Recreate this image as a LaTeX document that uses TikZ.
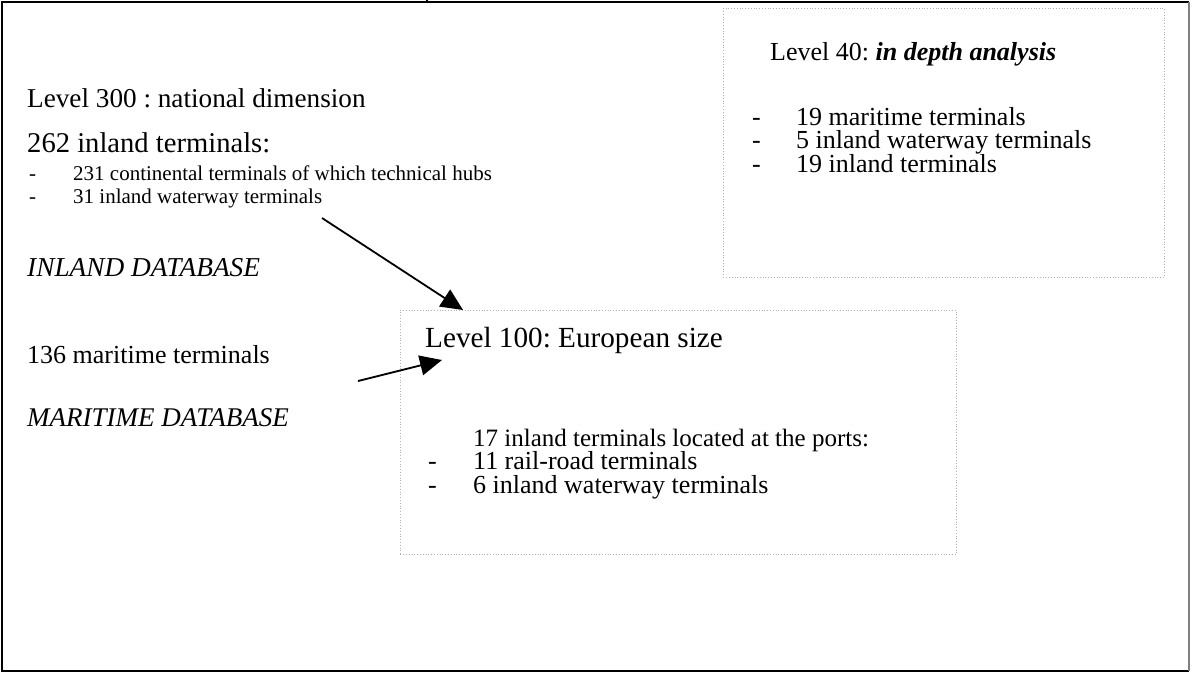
\documentclass[tikz,border=0pt]{standalone}
\usepackage{fontspec}
\setmainfont{Liberation Serif}
\usetikzlibrary{arrows.meta}
\frenchspacing
\newcommand{\pxsize}[1]{\fontsize{#1}{#1}\selectfont}
% a list of lines at a fixed line pitch; baseline = first line
\newcommand{\linestack}[2]{\vtop{\baselineskip=#1pt\lineskiplimit=-30pt\lineskip=0pt #2}}
\newcommand{\bul}[2]{\hbox{\makebox[#1pt][l]{-}#2}}
\begin{document}
\begin{tikzpicture}[x=1pt,y=-1pt,
  txt/.style={anchor=base west, inner sep=0pt},
  item/.style={txt, font=\pxsize{21}},
  body/.style={txt, font=\pxsize{26}},
  dotbox/.style={draw=gray!60, dotted, line width=0.8pt, inner sep=0pt, anchor=north west},
  link/.style={line width=1.8pt, -{Triangle[length=22pt,width=20pt]}}]

\useasboundingbox (0,0) rectangle (1193,673);
\fill[white] (0,0) rectangle (1193,673);

% outer frame
\draw[line width=2pt] (1189,2) -- (2,2) -- (2,671) -- (1189,671);
\draw[gray, line width=1.5pt] (1189,2) -- (1189,671);
\draw[line width=1.2pt] (427,0) -- (427,3);

% dotted boxes
\node[dotbox, minimum width=441pt, minimum height=269pt] (l40) at (723,8) {};
\node[dotbox, minimum width=556pt, minimum height=244pt] (l100) at (400,310) {};

% national level
\node[txt, font=\pxsize{27.2}] (t300) at (27,107) {Level 300 : national dimension};
\node[txt, font=\pxsize{28.6}] (inl) at (27,152) {262 inland terminals:};
\node[item] (i300) at (29,180) {\linestack{23}{%
  \bul{44}{231 continental terminals of which technical hubs}%
  \bul{44}{31 inland waterway terminals}}};
\node[txt, font=\pxsize{27.3}] (idb) at (27,276) {\itshape INLAND DATABASE};
\node[body] (mar) at (27,363) {136 maritime terminals};
\node[txt, font=\pxsize{27}] (mdb) at (27,426) {\itshape MARITIME DATABASE};

% level 40
\node[body] (t40) at (770,60) {Level 40: \textbf{\itshape in depth analysis}};
\node[body] (i40) at (752,125) {\linestack{23.5}{%
  \bul{44}{19 maritime terminals}%
  \bul{44}{5 inland waterway terminals}%
  \bul{44}{19 inland terminals}}};

% level 100
\node[txt, font=\pxsize{29.2}] (t100) at (425,347) {Level 100: European size};
\node[body] (i100) at (428,446) {\linestack{23.5}{%
  \hbox{\hspace*{45pt}{\pxsize{25}17 inland terminals located at the ports:}}%
  \bul{45}{11 rail-road terminals}%
  \bul{45}{6 inland waterway terminals}}};

% arrows
\coordinate (a1s) at (322,218);
\coordinate (a1e) at (463,310);
\coordinate (a2s) at (358,381);
\coordinate (a2e) at (442,360);
\draw[link] (a1s) -- (a1e);
\draw[link] (a2s) -- (a2e);
\end{tikzpicture}
\end{document}
